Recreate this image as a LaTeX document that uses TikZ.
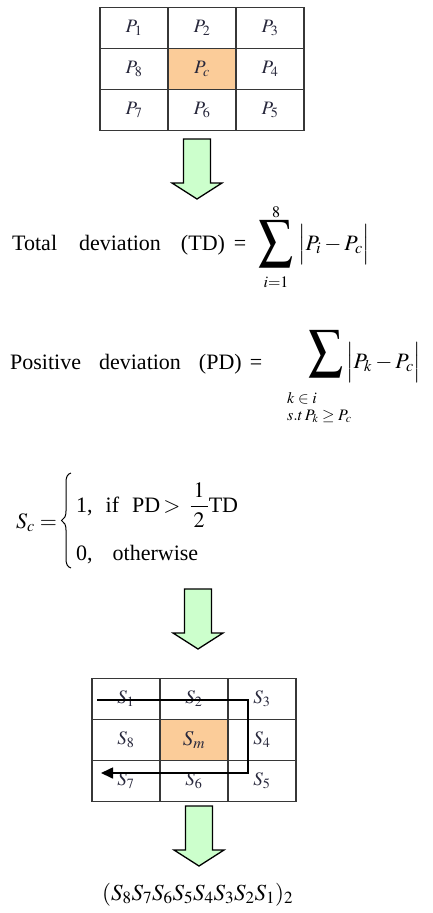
\documentclass[tikz,border=0pt]{standalone}
\usepackage{amsmath}
\usepackage{graphicx}
\usepackage{mathptmx}
\usepackage{fontspec}
\setmainfont{Liberation Serif}
\usetikzlibrary{arrows.meta}
\definecolor{cellorange}{RGB}{251,204,153}
\definecolor{arrowgreen}{RGB}{204,255,204}
\definecolor{gridline}{RGB}{55,55,55}
\definecolor{celltext}{RGB}{40,40,60}
\tikzset{
  cell/.style={draw=gridline, line width=1.4pt, minimum width=68pt, minimum height=41pt,
    inner sep=0pt, text=celltext, font=\fontsize{19}{21}\selectfont},
  centercell/.style={cell, fill=cellorange},
  eqtext/.style={inner sep=0pt, font=\fontsize{22}{26}\selectfont},
  limtext/.style={inner sep=0pt, font=\fontsize{16}{18}\selectfont},
  downarrow/.pic={\draw[line width=1.3pt, fill=arrowgreen, line join=miter]
    (-13.5,0) -- (13.5,0) -- (13.5,44) -- (25,44) -- (0,60) -- (-25,44) -- (-13.5,44) -- cycle;},
  pathline/.style={line width=1.6pt, -{Triangle[length=12pt,width=11pt]}},
  bracestyle/.style={line width=1pt}
}
\begin{document}
\begin{tikzpicture}[x=1pt,y=-1pt]
\useasboundingbox (0,0) rectangle (433,913);

% top grid
\node[cell] (p1) at (134,28) {$P_1$};
\node[cell] (p2) at (202,28) {$P_2$};
\node[cell] (p3) at (270,28) {$P_3$};
\node[cell] (p8) at (134,69) {$P_8$};
\node[centercell] (pc) at (202,69) {$P_c$};
\node[cell] (p4) at (270,69) {$P_4$};
\node[cell] (p7) at (134,110) {$P_7$};
\node[cell] (p6) at (202,110) {$P_6$};
\node[cell] (p5) at (270,110) {$P_5$};

\pic at (197,139) {downarrow};

% total deviation
\node[eqtext, anchor=base west] (tdl) at (12,250) {Total\hspace{22pt}deviation\hspace{20pt}(TD)\hspace{9pt}=};
\node[eqtext] (sum1) at (275.5,243.5) {\resizebox*{35pt}{47pt}{$\displaystyle\sum$}};
\node[limtext, anchor=base] (sum1up) at (276,217) {$8$};
\node[limtext, anchor=base] (sum1lo) at (276,287) {$i{=}1$};
\node[eqtext, anchor=base west] (tdr) at (298,250) {$\Big|P_i - P_c\Big|$};

% positive deviation
\node[eqtext, anchor=base west] (pdl) at (10,369) {Positive\hspace{18pt}deviation\hspace{18pt}(PD)\hspace{8pt}=};
\node[eqtext] (sum2) at (325.5,353.5) {\resizebox*{35pt}{47pt}{$\displaystyle\sum$}};
\node[limtext, anchor=base west] (sum2lo1) at (287,403) {$k\in i$};
\node[limtext, anchor=base west] (sum2lo2) at (287,420) {$s.t\,P_k\ge P_c$};
\node[eqtext, anchor=base west] (pdr) at (346,368) {$\Big|P_k - P_c\Big|$};

% S_c definition
\node[eqtext, anchor=base west] (sc) at (16,528) {$S_c =$};
\draw[bracestyle] (71,473) .. controls (67.5,474) and (66,477) .. (66,482) -- (66,511)
  .. controls (66,516) and (64.5,519) .. (61.5,520.5)
  .. controls (64.5,522) and (66,525) .. (66,530) -- (66,559)
  .. controls (66,564) and (67.5,567) .. (71,568);
\node[eqtext, anchor=base west] (row1) at (76,512) {1,\hspace{13pt}if\hspace{13pt}PD\hspace{3pt}$>$\hspace{9pt}$\dfrac{\hspace{3pt}1\hspace{3pt}}{2}$TD};
\node[eqtext, anchor=base west] (row2) at (76,560) {0,\hspace{20pt}otherwise};

\pic at (198,589) {downarrow};

% bottom grid
\node[cell] (s1) at (126,699) {$S_1$};
\node[cell] (s2) at (194,699) {$S_2$};
\node[cell] (s3) at (262,699) {$S_3$};
\node[cell] (s8) at (126,740) {$S_8$};
\node[centercell, font=\fontsize{21}{23}\selectfont] (sm) at (194,740) {$S_m$};
\node[cell] (s4) at (262,740) {$S_4$};
\node[cell] (s7) at (126,781) {$S_7$};
\node[cell] (s6) at (194,781) {$S_6$};
\node[cell] (s5) at (262,781) {$S_5$};

\coordinate (ps) at (97,700);
\coordinate (c1) at (248,700);
\coordinate (c2) at (248,773);
\coordinate (pe) at (101,773);
\draw[pathline] (ps) -- (c1) -- (c2) -- (pe);

\pic at (199,806) {downarrow};

\node[inner sep=0pt, anchor=base west, font=\fontsize{23}{27}\selectfont] (code) at (102,900) {$(S_8S_7S_6S_5S_4S_3S_2S_1)_2$};
\end{tikzpicture}
\end{document}
